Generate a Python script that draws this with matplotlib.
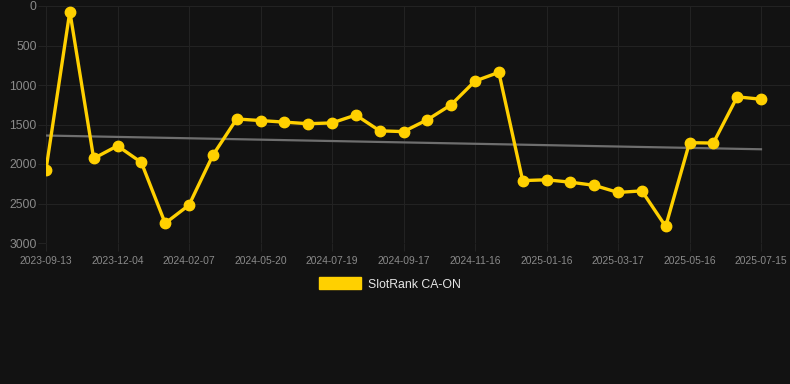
import numpy as np
import matplotlib
matplotlib.use("Agg")
import matplotlib.pyplot as plt
from matplotlib.patches import Patch

plt.rcParams["font.family"] = ["Liberation Sans", "DejaVu Sans"]

tick_labels = ["2023-09-13", "2023-12-04", "2024-02-07", "2024-05-20", "2024-07-19",
               "2024-09-17", "2024-11-16", "2025-01-16", "2025-03-17", "2025-05-16",
               "2025-07-15"]
ranks = [2070, 70, 1930, 1770, 1980, 2750, 2520, 1890, 1430, 1450,
         1470, 1490, 1480, 1380, 1580, 1590, 1440, 1250, 950, 840,
         2210, 2200, 2230, 2270, 2360, 2340, 2790, 1730, 1735, 1150, 1180]
series_name = "SlotRank CA-ON"

BG = "#121212"
GRID = "#222222"
TXT = "#8a8a8a"
GOLD = "#FFD000"

W, H = 790, 384
fig = plt.figure(figsize=(W / 100, H / 100), dpi=100, facecolor=BG)
ax = fig.add_axes([46 / W, 1 - 243 / H, (790 - 46) / W, (243 - 6) / H])
ax.set_facecolor(BG)

x = np.arange(len(ranks))
y = np.array(ranks, dtype=float)

# trend line (linear regression)
k, b = np.polyfit(x, y, 1)
ax.plot(x, k * x + b, color="#6e6e6e", lw=1.6, zorder=2)

ax.plot(x, y, color=GOLD, lw=2.4, marker="o", ms=7.5, mfc=GOLD, mec=GOLD, zorder=3)

n = len(ranks)
ax.set_xlim(0, (n - 1) * (790 - 46) / (761 - 46))
ax.set_ylim(3000, 0)
ax.set_yticks([0, 500, 1000, 1500, 2000, 2500, 3000])
ax.set_xticks(np.arange(0, n, 3))
ax.set_xticklabels(tick_labels)

ax.grid(True, color=GRID, lw=0.8)
ax.set_axisbelow(True)
for s in ax.spines.values():
    s.set_visible(False)
ax.tick_params(axis="y", colors=GRID, length=6, width=0.8, pad=0.8, labelsize=8.8, labelcolor=TXT)
ax.tick_params(axis="x", colors=GRID, length=6, width=0.8, pad=3, labelsize=7.4, labelcolor=TXT)

handle = Patch(facecolor=GOLD, edgecolor=GOLD)
leg = fig.legend([handle], [series_name], loc="center", bbox_to_anchor=(390 / W, 1 - 284 / H),
                 frameon=False, handlelength=3.4, handleheight=1.1, handletextpad=0.6,
                 fontsize=8.8, labelcolor="#e6e6e6")

fig.savefig("out.png", dpi=100, facecolor=BG)
